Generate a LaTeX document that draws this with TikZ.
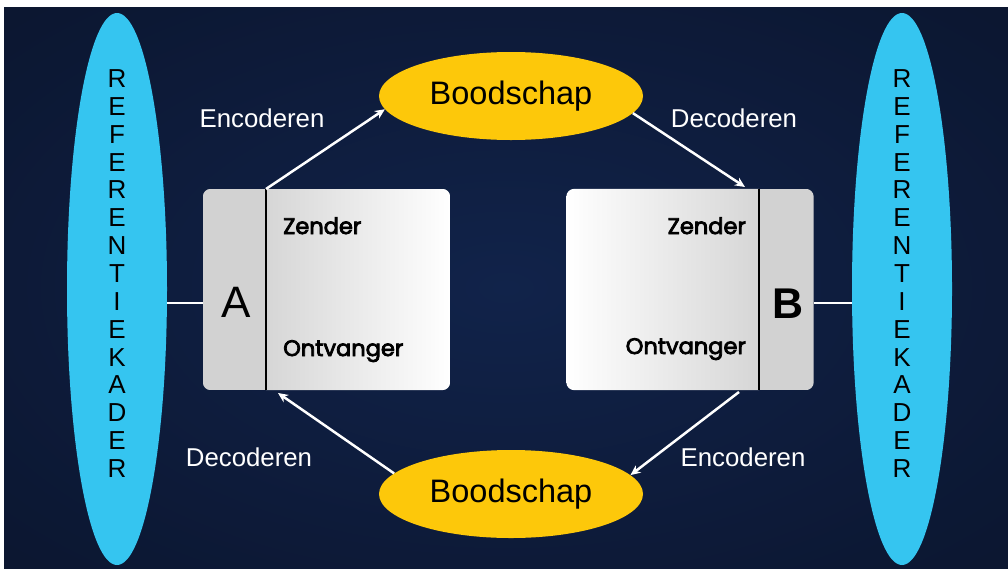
\documentclass[tikz,border=0pt]{standalone}
\usepackage{fontspec}
\setmainfont{Liberation Sans}
\newfontfamily\pop{Poppins}[FakeBold=3.5]
\usetikzlibrary{shapes.geometric,arrows.meta}
\definecolor{refblue}{RGB}{53,197,240}
\definecolor{msgyellow}{RGB}{253,200,10}
\definecolor{bgin}{RGB}{17,35,74}
\definecolor{bgmid}{RGB}{12,24,52}
\definecolor{bgout}{RGB}{9,13,24}
\definecolor{stripgray}{RGB}{210,210,210}
\definecolor{boxgray}{RGB}{214,214,214}
\pgfdeclareradialshading{bgshade}{\pgfpoint{0bp}{0bp}}{color(0bp)=(bgin); color(30bp)=(bgmid); color(71bp)=(bgout)}
\begin{document}
\begin{tikzpicture}[x=1pt,y=-1pt,
 frame/.style={ellipse, fill=refblue, minimum width=100pt, minimum height=552pt, inner sep=0pt},
 msg/.style={ellipse, fill=msgyellow, minimum width=264pt, minimum height=88pt, inner sep=0pt, font=\fontsize{32.5}{32.5}\selectfont},
 person/.style={rectangle, minimum width=247pt, minimum height=201pt, inner sep=0pt},
 letter/.style={anchor=base, inner sep=0pt, font=\fontsize{26}{26}\selectfont},
 lbl/.style={anchor=base, text=white, inner sep=0pt, font=\fontsize{25.8}{25.8}\selectfont},
 role/.style={inner sep=0pt, font=\pop\fontsize{22.5}{22.5}\selectfont},
 arr/.style={draw=white, line width=2.5pt, -{Stealth[length=10pt,width=9pt]}},
 link/.style={draw=white, line width=2pt},
 divider/.style={draw=black, line width=2pt}]
\useasboundingbox (0,0) rectangle (1008,568);
\fill[white] (0,0) rectangle (1008,568);
\shade[shading=bgshade] (4,7) rectangle (1008,568);

% frames of reference
\node[frame] (ellL) at (117,289) {};
\node[frame] (ellR) at (902,289) {};
\foreach \l [count=\i from 0] in {R,E,F,E,R,E,N,T,I,E,K,A,D,E,R}{
  \node[letter] (lL\i) at (117,87.5+27.86*\i) {\l};
  \node[letter] (lR\i) at (902,87.5+27.86*\i) {\l};
}

% messages
\node[msg] (msgT) at (511,96) {Boodschap};
\node[msg] (msgB) at (511,494) {Boodschap};

% person A
\node[person] (boxA) at (326.5,289.5) {};
\coordinate (aTop) at (266,189);
\coordinate (aBot) at (266,390);
\begin{scope}
\clip[rounded corners=8pt] (boxA.north west) rectangle (boxA.south east);
\fill[stripgray] (boxA.north west) rectangle (aBot);
\shade[left color=boxgray, right color=white] (aTop) rectangle (boxA.south east);
\end{scope}
\draw[divider] (aTop) -- (aBot);
\node[anchor=base, inner sep=0pt, font=\fontsize{44}{44}\selectfont] (letA) at (236,317) {A};
\node[role, anchor=base west] (zendA) at (283,234) {Zender};
\node[role, anchor=base west] (ontvA) at (283,356) {Ontvanger};

% person B
\node[person] (boxB) at (690,289.5) {};
\coordinate (bTop) at (759,189);
\coordinate (bBot) at (759,390);
\begin{scope}
\clip[rounded corners=8pt] (boxB.north west) rectangle (boxB.south east);
\shade[left color=white, right color=boxgray] (boxB.north west) rectangle (bBot);
\fill[stripgray] (bTop) rectangle (boxB.south east);
\end{scope}
\draw[divider] (bTop) -- (bBot);
\node[anchor=base, inner sep=0pt, font=\bfseries\fontsize{43}{43}\selectfont] (letB) at (788,318) {B};
\node[role, anchor=base east] (zendB) at (746,234) {Zender};
\node[role, anchor=base east] (ontvB) at (746,354) {Ontvanger};

% links to frames of reference
\draw[link] ([yshift=-13.5pt]boxA.west) -- ([yshift=-13.5pt]boxA.west -| ellL.east);
\draw[link] ([yshift=-13.5pt]boxB.east) -- ([yshift=-13.5pt]boxB.east -| ellR.west);

% arrows
\coordinate (bTopIn) at (745,187);
\coordinate (aBotIn) at (278,393);
\coordinate (bBotIn) at (739,392);
\draw[arr] (aTop) -- (msgT.186);
\draw[arr] (msgT.352) -- (bTopIn);
\draw[arr] (msgB.170) -- (aBotIn);
\draw[arr] (bBotIn) -- (msgB.9);

% labels
\node[lbl] (encT) at (262,127.5) {Encoderen};
\node[lbl] (decT) at (734,127.5) {Decoderen};
\node[lbl] (decB) at (249,466.5) {Decoderen};
\node[lbl] (encB) at (743,466.5) {Encoderen};
\end{tikzpicture}
\end{document}
